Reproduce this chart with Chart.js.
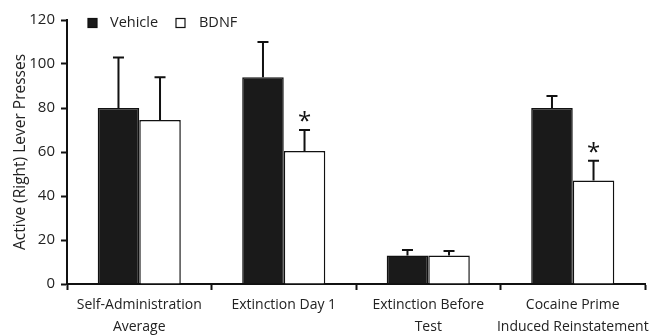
<!DOCTYPE html>
<html>
<head>
<meta charset="utf-8">
<script src="https://cdn.jsdelivr.net/npm/chart.js@4.4.1/dist/chart.umd.min.js"></script>
<style>
html,body{margin:0;padding:0;background:#fff;}
#wrap{width:655px;height:336px;position:relative;}
</style>
</head>
<body>
<div id="wrap"><canvas id="c" width="655" height="336"></canvas></div>
<script>
const categories = [
  ["Self-Administration", "Average"],
  ["Extinction Day 1"],
  ["Extinction Before", "Test"],
  ["Cocaine Prime", "Induced Reinstatement"]
];
const vehicleValues = [80, 94, 13, 80];
const vehicleErrors = [23, 16, 2.5, 5.5];
const bdnfValues = [74.5, 60.5, 13, 47];
const bdnfErrors = [19.5, 9.5, 2, 9];
const bdnfSignificant = [false, true, false, true];
const yTicks = [0, 20, 40, 60, 80, 100, 120];

const FONT = "'Open Sans', 'Noto Sans', sans-serif";

const errorBarPlugin = {
  id: 'errorBars',
  afterDatasetsDraw(chart) {
    const ctx = chart.ctx;
    const yScale = chart.scales.y;
    chart.data.datasets.forEach((ds, di) => {
      const meta = chart.getDatasetMeta(di);
      meta.data.forEach((bar, i) => {
        const v = ds.data[i];
        const e = ds.errors[i];
        const yTop = yScale.getPixelForValue(v + e);
        const yBar = yScale.getPixelForValue(v);
        ctx.save();
        ctx.strokeStyle = '#111';
        ctx.lineWidth = 2;
        ctx.beginPath();
        ctx.moveTo(bar.x, yBar);
        ctx.lineTo(bar.x, yTop);
        ctx.moveTo(bar.x - 5.5, yTop);
        ctx.lineTo(bar.x + 5.5, yTop);
        ctx.stroke();
        if (ds.significant && ds.significant[i]) {
          ctx.fillStyle = '#111';
          ctx.font = "24px " + FONT;
          ctx.textAlign = 'center';
          ctx.textBaseline = 'middle';
          ctx.fillText('*', bar.x, yTop - 8);
        }
        ctx.restore();
      });
    });
  }
};

const legendPlugin = {
  id: 'customLegend',
  afterDraw(chart) {
    const ctx = chart.ctx;
    const items = [
      {x: 88, textX: 110, ds: chart.data.datasets[0]},
      {x: 176, textX: 199, ds: chart.data.datasets[1]}
    ];
    ctx.save();
    ctx.font = "14.5px " + FONT;
    ctx.textBaseline = 'middle';
    ctx.textAlign = 'left';
    items.forEach(it => {
      ctx.fillStyle = it.ds.backgroundColor;
      ctx.strokeStyle = '#111';
      ctx.lineWidth = 1.2;
      ctx.fillRect(it.x, 18.5, 9, 9);
      ctx.strokeRect(it.x, 18.5, 9, 9);
      ctx.fillStyle = '#222';
      ctx.fillText(it.ds.label, it.textX, 22.5);
    });
    ctx.restore();
  }
};

new Chart(document.getElementById('c'), {
  type: 'bar',
  data: {
    labels: categories,
    datasets: [
      {
        label: 'Vehicle',
        data: vehicleValues,
        errors: vehicleErrors,
        backgroundColor: '#1a1a1a',
        borderColor: '#111',
        borderWidth: 1.5,
        categoryPercentage: 0.575,
        barPercentage: 1.0
      },
      {
        label: 'BDNF',
        data: bdnfValues,
        errors: bdnfErrors,
        significant: bdnfSignificant,
        backgroundColor: '#ffffff',
        borderColor: '#111',
        borderWidth: 1.5,
        categoryPercentage: 0.575,
        barPercentage: 1.0
      }
    ]
  },
  options: {
    responsive: false,
    animation: false,
    devicePixelRatio: 1,
    layout: {padding: {top: 20, right: 10, left: 0, bottom: 0}},
    plugins: {legend: {display: false}, tooltip: {enabled: false}},
    scales: {
      x: {
        offset: true,
        grid: {display: true, drawOnChartArea: false, offset: true, tickLength: 6, tickColor: '#111', tickWidth: 2},
        border: {display: true, color: '#111', width: 2},
        ticks: {color: '#222', font: {family: FONT, size: 14, lineHeight: 1.55}, padding: 4, maxRotation: 0, autoSkip: false},
        afterFit(scale) { scale.height = 52; }
      },
      y: {
        min: 0, max: 120,
        afterBuildTicks(scale) { scale.ticks = yTicks.map(v => ({value: v})); },
        grid: {display: true, drawOnChartArea: false, tickLength: 6, tickColor: '#111', tickWidth: 2},
        border: {display: true, color: '#111', width: 2},
        ticks: {color: '#222', font: {family: FONT, size: 15}, padding: 6},
        title: {display: true, text: 'Active (Right) Lever Presses', color: '#222', font: {family: FONT, size: 15.5}, padding: {top: 11, bottom: 4}},
        afterFit(scale) { scale.width = 67; }
      }
    }
  },
  plugins: [errorBarPlugin, legendPlugin]
});
</script>
</body>
</html>
